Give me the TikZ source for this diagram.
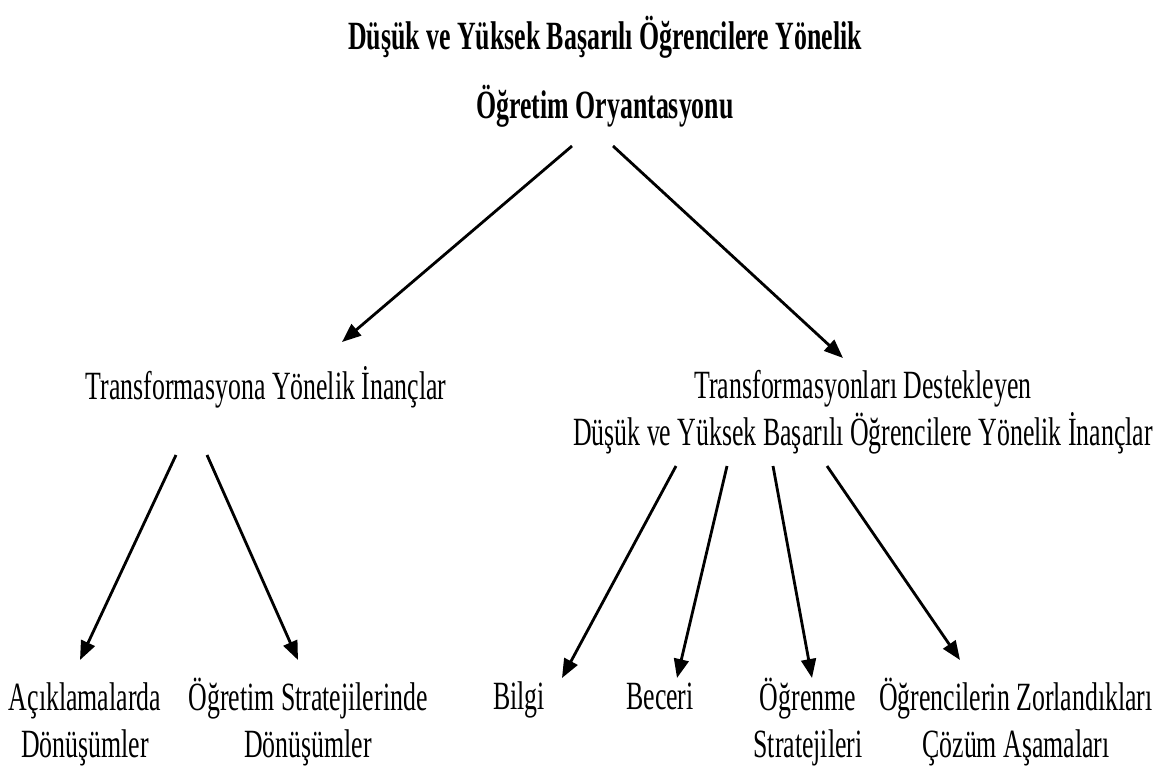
\documentclass[tikz,border=0pt]{standalone}
\usepackage{fontspec}
\setmainfont{Liberation Serif}[FakeStretch=0.645]
\usetikzlibrary{arrows.meta}

% fixed-height struts so every label box has the same top and bottom
\newcommand\topstrut{\rule{0pt}{11pt}}
\newcommand\botstrut{\rule[-3.2pt]{0pt}{3.2pt}}

\begin{document}
\begin{tikzpicture}[x=0.1mm, y=-0.1mm,
  label/.style={inner sep=0pt, align=center, font=\fontsize{11.4}{13.4}\selectfont},
  heading/.style={label, font=\fontsize{11.4}{19.6}\selectfont\bfseries},
  arr/.style={line width=0.8pt, -{Triangle[length=5.4pt, width=4.2pt]}}]
  \useasboundingbox (0,0) rectangle (1166,767);

  % headings and labels
  \node[heading] (title) at (605,70) {\topstrut Düşük ve Yüksek Başarılı Öğrencilere Yönelik\\Öğretim Oryantasyonu\botstrut};
  \node[label] (left)  at (266,386) {\topstrut Transformasyona Yönelik İnançlar\botstrut};
  \node[label] (right) at (863,408) {\topstrut Transformasyonları Destekleyen\\Düşük ve Yüksek Başarılı Öğrencilere Yönelik İnançlar\botstrut};

  \node[label] (acik)  at (85,720)   {\topstrut Açıklamalarda\\Dönüşümler\botstrut};
  \node[label] (ogrt)  at (308,720)  {\topstrut Öğretim Stratejilerinde\\Dönüşümler\botstrut};
  \node[label] (bilgi) at (519,696)  {\topstrut Bilgi\botstrut};
  \node[label] (becer) at (660,696)  {\topstrut Beceri\botstrut};
  \node[label] (ogrn)  at (808,720)  {\topstrut Öğrenme\\Stratejileri\botstrut};
  \node[label] (zorl)  at (1016,720) {\topstrut Öğrencilerin Zorlandıkları\\Çözüm Aşamaları\botstrut};

  % arrow ends
  \coordinate (t-l) at (572,146);  \coordinate (t-r) at (613,146);
  \coordinate (l-in) at (342,342); \coordinate (r-in) at (843,358);
  \coordinate (l-a) at (176,455);  \coordinate (l-b) at (207,455);
  \coordinate (r-a) at (676,466);  \coordinate (r-b) at (727,466);
  \coordinate (r-c) at (773,466);  \coordinate (r-d) at (827,466);
  \coordinate (acik-in) at (80,660);   \coordinate (ogrt-in) at (298,660);
  \coordinate (bilgi-in) at (562,678); \coordinate (becer-in) at (677,678);
  \coordinate (ogrn-in) at (812,678);  \coordinate (zorl-in) at (960,660);

  % connectors
  \draw[arr] (t-l) -- (l-in);
  \draw[arr] (t-r) -- (r-in);
  \draw[arr] (l-a) -- (acik-in);
  \draw[arr] (l-b) -- (ogrt-in);
  \draw[arr] (r-a) -- (bilgi-in);
  \draw[arr] (r-b) -- (becer-in);
  \draw[arr] (r-c) -- (ogrn-in);
  \draw[arr] (r-d) -- (zorl-in);
\end{tikzpicture}
\end{document}
